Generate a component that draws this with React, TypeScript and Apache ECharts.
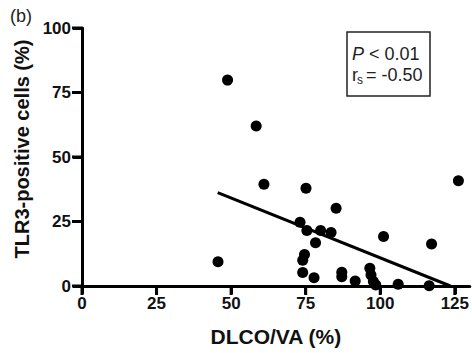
import React, { useEffect, useRef } from "react";
import * as echarts from "echarts";

const dlcoVa: number[] = [
  48.8, 58.4, 61.0, 75.1, 85.2, 126.2, 101.1, 45.6, 117.2, 78.3, 73.1, 75.4, 80.0, 83.5,
  74.6, 74.0, 74.0, 77.8, 87.1, 87.1, 91.6, 96.5, 96.9, 97.7, 98.5, 106.0, 116.4,
];
const tlr3: number[] = [
  79.8, 62.0, 39.4, 37.9, 30.1, 40.8, 19.2, 9.4, 16.3, 16.8, 24.7, 21.5, 21.5, 20.7,
  12.2, 10.0, 5.2, 3.2, 5.3, 3.6, 1.9, 6.9, 4.3, 1.7, 0.4, 0.7, 0.1,
];
const fitX: number[] = [45.5, 123.5];
const fitY: number[] = [36.2, 0];
const xTicks: number[] = [0, 25, 50, 75, 100, 125];
const yTicks: number[] = [0, 25, 50, 75, 100];

const FONT = "'Liberation Sans', Arial, Helvetica, sans-serif";

export default function App() {
  const ref = useRef<HTMLDivElement>(null);
  useEffect(() => {
    if (!ref.current) return;
    const chart = echarts.init(ref.current, undefined, { renderer: "svg" });
    const points = dlcoVa.map((x, i) => [x, tlr3[i]]);
    const fit = fitX.map((x, i) => [x, fitY[i]]);
    chart.setOption({
      animation: false,
      backgroundColor: "#ffffff",
      grid: { left: 82, right: 1, top: 28, bottom: 67 },
      xAxis: {
        type: "value",
        min: 0,
        max: 130,
        interval: 25,
        name: "DLCO/VA (%)",
        nameLocation: "middle",
        nameGap: 40,
        nameTextStyle: { fontFamily: FONT, fontWeight: "bold", fontSize: 21, color: "#111" },
        axisLine: { show: true, onZero: false, lineStyle: { color: "#000", width: 3 } },
        axisTick: { show: true, length: 8, lineStyle: { color: "#000", width: 3 } },
        axisLabel: {
          show: true,
          fontFamily: FONT,
          fontWeight: "bold",
          fontSize: 17,
          color: "#111",
          margin: 9,
          showMaxLabel: false,
          formatter: (v: number) => (xTicks.indexOf(v) >= 0 ? String(v) : ""),
        },
        splitLine: { show: false },
      },
      yAxis: {
        type: "value",
        min: 0,
        max: 100,
        interval: 25,
        name: "TLR3-positive cells (%)",
        nameLocation: "middle",
        nameGap: 49,
        nameTextStyle: {
          fontFamily: FONT,
          fontWeight: "bold",
          fontSize: 20,
          color: "#111",
          padding: [0, 0, 0, 16],
        },
        axisLine: { show: true, onZero: false, lineStyle: { color: "#000", width: 3 } },
        axisTick: { show: true, length: 9, lineStyle: { color: "#000", width: 3 } },
        axisLabel: { show: true, fontFamily: FONT, fontWeight: "bold", fontSize: 17, color: "#111", margin: 11 },
        splitLine: { show: false },
      },
      series: [
        {
          type: "scatter",
          clip: false,
          silent: true,
          data: xTicks.map((v) => [v, 0]),
          symbol: "rect",
          symbolSize: [3, 9],
          symbolOffset: [0, 4.5],
          itemStyle: { color: "#000", opacity: 1 },
          z: 5,
        },
        {
          type: "scatter",
          clip: false,
          silent: true,
          data: yTicks.map((v) => [0, v]),
          symbol: "rect",
          symbolSize: [10, 3],
          symbolOffset: [-5, 0],
          itemStyle: { color: "#000", opacity: 1 },
          z: 5,
        },
        {
          type: "line",
          data: fit,
          showSymbol: false,
          symbol: "none",
          lineStyle: { color: "#000", width: 3 },
          z: 2,
        },
        {
          type: "scatter",
          data: points,
          symbol: "circle",
          symbolSize: 11,
          itemStyle: { color: "#000", opacity: 1 },
          z: 3,
        },
      ],
      graphic: [
        {
          type: "text",
          left: 10,
          top: 7,
          style: { text: "(b)", font: `18px ${FONT}`, fill: "#222" },
        },
        {
          type: "rect",
          shape: { x: 347, y: 32, width: 83, height: 64 },
          style: { fill: "#fff", stroke: "#222", lineWidth: 1.5 },
        },
        {
          type: "text",
          x: 352,
          y: 45,
          style: { text: "P", font: `italic 18px ${FONT}`, fill: "#222" },
        },
        {
          type: "text",
          x: 369,
          y: 45,
          style: { text: "< 0.01", font: `18px ${FONT}`, fill: "#222" },
        },
        {
          type: "text",
          x: 352,
          y: 66,
          style: { text: "r", font: `18px ${FONT}`, fill: "#222" },
        },
        {
          type: "text",
          x: 357,
          y: 74,
          style: { text: "s", font: `12px ${FONT}`, fill: "#222" },
        },
        {
          type: "text",
          x: 366,
          y: 66,
          style: { text: "= -0.50", font: `18px ${FONT}`, fill: "#222" },
        },
      ],
    });
    return () => chart.dispose();
  }, []);
  return (
    <div
      ref={ref}
      style={{ position: "absolute", left: 0, top: 0, width: 472, height: 353 }}
    />
  );
}
